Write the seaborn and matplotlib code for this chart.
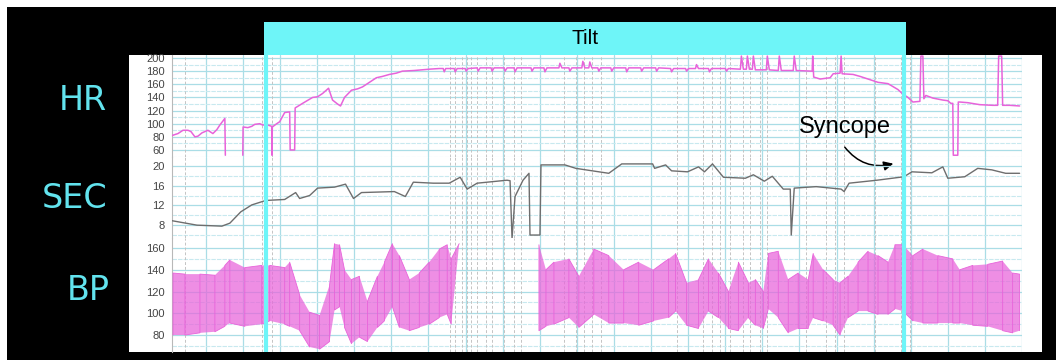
import numpy as np
import pandas as pd
import matplotlib
matplotlib.use("Agg")
import matplotlib.pyplot as plt
import seaborn as sns
from matplotlib.patches import Rectangle
from matplotlib.transforms import blended_transform_factory

# ---------------- data (time in arbitrary minutes) ----------------
hr_time = [0.0, 0.6, 1.1, 1.6, 1.9, 2.3, 2.6, 3.0, 3.6, 4.1, 4.5, 4.8, 5.3, 5.35, np.nan,
           7.1, 7.13, 7.6, 8.0, 8.3, 8.8, 9.1, 9.6, 10.0, 10.03, 10.06, 10.5, 10.8, 11.3, 11.8,
           11.85, 12.3, 12.35, 13.1, 14.1, 14.6, 15.1, 15.7, 16.1, 16.6, 16.9, 17.3, 18.0, 18.6,
           19.1, 19.8, 20.5, 21.1, 21.8, 22.5, 23.1, 24.3, 25.8, 26.8,
           27.2, 27.3, 27.45, 28.3, 28.4, 28.6, 29.4, 29.5, 29.7, 30.6, 30.7, 30.9, 32.0, 32.1,
           32.3, 33.3, 33.4, 33.6, 34.3, 34.4, 34.6, 36.0, 36.1, 36.3, 37.3, 37.4, 37.6, 38.8,
           38.9, 39.1, 39.8, 39.9, 40.1, 41.1, 41.2, 41.4, 41.8, 41.9, 42.1, 42.7, 42.8, 43.0,
           44.0, 44.1, 44.3, 45.5, 45.6, 45.8, 47.0, 47.1, 47.3, 48.5, 48.6, 48.8, 50.0, 50.1,
           50.3, 51.5, 51.6, 51.8, 52.5, 52.6, 52.8, 53.8, 53.9, 54.1, 55.5, 55.6, 55.8, 57.0,
           57.1, 57.3, 57.6, 57.7, 57.9, 58.2, 58.3, 58.5, 59.6, 59.7, 59.9, 60.8, 60.9, 61.1,
           62.3, 62.4, 62.6, 64.2, 64.25, 64.35, 65.0, 66.0, 66.3, 67.0, 67.1, 67.2, 68.3, 69.0,
           69.8, 70.8, 71.8, 72.8, 73.3, 73.8, 74.3, 75.0, 75.1, 75.3, 75.4, 75.6, 76.3, 77.3,
           77.8, 78.1, 78.3, 78.35, 78.8, 78.85, 79.0, 79.8, 81.0, 82.3, 82.8, 82.9, 83.2, 83.3,
           84.0, 85.0]
hr_bpm = [82, 85, 90, 90, 88, 80, 81, 86, 90, 85, 91, 98, 108, 52, np.nan,
          52, 95, 94, 96, 99, 100, 98, 98, 96, 52, 95, 100, 103, 117, 118,
          60, 60, 124, 131, 140, 141, 146, 154, 136, 130, 127, 140, 151, 153,
          156, 163, 170, 172, 175, 177, 180, 181, 183, 184,
          184, 179, 184, 184, 179, 184, 184, 180, 184, 185, 180, 185, 185, 180,
          185, 185, 180, 185, 185, 179, 185, 185, 180, 185, 185, 179, 185, 185,
          192, 185, 185, 180, 185, 185, 195, 185, 185, 194, 185, 185, 180, 185,
          185, 180, 185, 185, 179, 185, 185, 180, 185, 185, 180, 185, 184, 179,
          184, 184, 180, 184, 184, 190, 184, 184, 179, 184, 184, 180, 184, 183,
          203, 183, 183, 203, 183, 183, 203, 182, 182, 203, 182, 181, 203, 181,
          181, 203, 181, 180, 203, 171, 168, 170, 176, 177, 203, 176, 175, 172,
          168, 163, 161, 152, 145, 140, 133, 134, 203, 203, 138, 143, 139, 136,
          135, 131, 131, 52, 52, 133, 133, 132, 129, 128, 128, 203, 203, 128,
          128, 127]

sec_time = [0.0, 2.5, 5.0, 5.8, 6.9, 8.0, 9.4, 11.3, 12.4, 12.8, 13.8, 14.6, 16.3, 17.4,
            18.2, 19.0, 22.3, 23.4, 24.2, 26.2, 27.8, 28.9, 29.6, 30.6, 33.6, 33.9, 34.1,
            34.4, 35.2, 35.8, 35.9, 36.9, 37.0, 39.4, 40.5, 43.8, 45.1, 48.2, 48.4, 49.5,
            50.1, 51.7, 52.8, 53.4, 54.2, 55.3, 57.5, 58.3, 59.4, 60.2, 61.3, 62.0, 62.1,
            62.4, 64.6, 67.1, 67.4, 67.9, 70.7, 73.4, 74.2, 76.2, 77.3, 77.8, 79.5, 80.8,
            82.2, 83.6, 85.0]
sec_val = [8.9, 8.0, 7.8, 8.4, 10.7, 12.1, 13.0, 13.2, 14.6, 13.4, 14.0, 15.5, 15.7, 16.3,
           13.4, 14.6, 14.8, 13.8, 16.7, 16.5, 16.5, 17.7, 15.3, 16.5, 17.1, 17.0, 5.3,
           13.8, 17.1, 18.5, 6.0, 6.0, 20.2, 20.2, 19.5, 18.5, 20.4, 20.4, 19.5, 20.2,
           19.0, 18.8, 19.8, 18.8, 20.4, 17.7, 17.5, 18.2, 16.9, 17.9, 15.3, 15.3, 6.0,
           15.5, 15.8, 15.3, 14.8, 16.5, 17.1, 17.8, 18.8, 18.6, 19.8, 17.5, 17.8, 19.5,
           19.2, 18.5, 18.5]

bp_time = [0.1, 1.3, 2.8, 4.3, 5.3, 5.8, 7.3, 9.0, 9.8, 11.3, 11.8, 12.8, 13.8, 14.8, 15.8,
           16.3, 16.8, 17.3, 18.0, 18.8, 19.6, 20.6, 21.3, 22.1, 22.8, 23.8, 24.8, 25.8,
           26.8, 27.6, 28.0, 28.8, np.nan,
           36.8, 37.5, 38.3, 39.8, 40.8, 42.3, 43.8, 45.3, 46.8, 48.3, 49.8, 50.5, 51.6,
           52.8, 53.8, 54.8, 55.8, 56.8, 57.8, 58.5, 59.3, 59.8, 60.8, 61.8, 62.8, 63.8,
           64.3, 65.3, 66.3, 67.0, 67.8, 68.8, 69.8, 70.8, 71.8, 72.5, 73.3, 74.3, 75.3,
           76.8, 78.3, 79.0, 80.3, 81.8, 83.3, 84.3, 85.0]
bp_systolic = [137, 136, 136, 135, 144, 149, 142, 144, 144, 142, 147, 117, 101, 98, 126,
               164, 163, 140, 131, 134, 111, 134, 147, 164, 153, 131, 137, 147,
               159, 163, 150, 164, np.nan,
               163, 140, 147, 150, 134, 159, 153, 140, 147, 140, 150, 155, 128,
               131, 150, 137, 120, 147, 128, 131, 120, 155, 157, 131, 137, 131,
               155, 140, 131, 128, 134, 147, 157, 153, 147, 163, 163, 153, 159,
               153, 150, 140, 144, 145, 148, 137, 136]
bp_diastolic = [80, 80, 82, 83, 88, 91, 88, 90, 93, 90, 88, 84, 69, 67, 74,
                103, 106, 87, 72, 78, 74, 87, 93, 106, 87, 84, 87, 90,
                96, 99, 90, 164, np.nan,
                84, 88, 90, 96, 87, 99, 91, 91, 89, 93, 96, 102, 89,
                86, 102, 96, 86, 84, 96, 89, 86, 104, 96, 82, 86, 86,
                96, 93, 89, 80, 96, 102, 102, 99, 99, 104, 102, 93, 91,
                91, 91, 91, 89, 88, 84, 82, 84]

event_marks = [1.3, 9.0, 10.0, 27.9, 28.4, 29.1, 29.6, 30.0, 30.6, 31.5, 32.1, 33.3, 34.3,
               35.0, 39.3, 40.5, 41.3, 42.1, 43.0, 50.6, 53.3, 54.2, 55.0, 56.0, 57.3,
               58.0, 59.0, 59.7, 63.6, 65.6, 66.5, 67.4, 70.5, 73.1, 74.0]

tilt_start, tilt_end = 9.4, 73.4
syncope_label = "Syncope"
syncope_arrow_from = (67.3, 67.6)   # HR-axis coordinates
syncope_arrow_to = (72.6, 20.6)     # SEC-axis coordinates

hr_ticks = [60, 80, 100, 120, 140, 160, 180, 200]
sec_ticks = [8, 12, 16, 20]
bp_ticks = [80, 100, 120, 140, 160]
panel_names = ["HR", "SEC", "BP"]

# ---------------- style ----------------
sns.set_theme(style="white")
plt.rcParams["font.family"] = ["Liberation Sans", "DejaVu Sans"]

MAGENTA = "#e863da"
CYAN = "#6ef5f8"
GRID = "#aadde6"
GRID_MINOR = "#c8e9ef"

fig = plt.figure(figsize=(10.56, 3.6), dpi=100, facecolor="white")
W, H = 1056.0, 360.0

def fx(px):
    return px / W

def fy(py):
    return 1 - py / H

# black frame and white chart card (behind the axes)
fig.add_artist(Rectangle((fx(7), 0), 1 - fx(7), fy(7), transform=fig.transFigure,
                         facecolor="black", edgecolor="none", zorder=-3))
fig.add_artist(Rectangle((fx(129), fy(352)), fx(1042) - fx(129), fy(55) - fy(352),
                         transform=fig.transFigure, facecolor="white", edgecolor="none", zorder=-2))

left, width = fx(172), fx(1022) - fx(172)
ax_hr = fig.add_axes([left, fy(157), width, fy(55) - fy(157)])
ax_sec = fig.add_axes([left, fy(238), width, fy(157) - fy(238)])
ax_bp = fig.add_axes([left, fy(352), width, fy(238) - fy(352)])
axes = [ax_hr, ax_sec, ax_bp]

xgrid = np.arange(3.4, 85.5, 3.72)
for ax in axes:
    ax.set_facecolor("none")
    ax.set_xlim(0, 85)
    ax.set_xticks(xgrid)
    ax.set_xticklabels([])
    for s in ["top", "right", "bottom"]:
        ax.spines[s].set_visible(False)
    ax.spines["left"].set_color("#b8b8b8")
    ax.spines["left"].set_linewidth(0.8)
    ax.tick_params(axis="both", length=0, labelsize=8, labelcolor="#444444", pad=5)
    ax.grid(axis="x", which="major", color=GRID, lw=0.9)
    ax.grid(axis="y", which="major", color=GRID, lw=0.9)
    ax.grid(axis="y", which="minor", color=GRID_MINOR, lw=0.8, ls=(0, (4, 1)))
    for t in event_marks:
        ax.axvline(t, color="#c4c4c4", lw=0.7, ls=(0, (3, 2)), zorder=1)

ax_hr.set_ylim(49.3, 204.6)
ax_hr.set_yticks(hr_ticks)
ax_hr.set_yticks(np.arange(50, 205, 10), minor=True)
ax_sec.set_ylim(5.4, 21.8)
ax_sec.set_yticks(sec_ticks)
ax_sec.set_yticks(np.arange(6, 22, 2), minor=True)
ax_bp.set_ylim(64.4, 169.2)
ax_bp.set_yticks(bp_ticks)
ax_bp.set_yticks(np.arange(70, 170, 10), minor=True)

def segmented(t, v):
    df = pd.DataFrame({"t": t, "v": v})
    df["seg"] = df["t"].isna().cumsum()
    return df.dropna()

# HR
hr_df = segmented(hr_time, hr_bpm)
sns.lineplot(data=hr_df, x="t", y="v", units="seg", estimator=None, sort=False,
             color=MAGENTA, lw=1.1, ax=ax_hr, zorder=3)

# SEC
sec_df = segmented(sec_time, sec_val)
sns.lineplot(data=sec_df, x="t", y="v", units="seg", estimator=None, sort=False,
             color="#6e6e6e", lw=1.0, ax=ax_sec, zorder=3)

# BP: envelope band + beat strokes between diastolic and systolic readings
bp_t = np.array(bp_time, dtype=float)
bp_hi = np.array(bp_systolic, dtype=float)
bp_lo = np.array(bp_diastolic, dtype=float)
ax_bp.fill_between(bp_t, bp_lo, bp_hi, color=MAGENTA, alpha=0.72, lw=0, zorder=2)
rows = []
seg = 0
for i, (t, hi, lo) in enumerate(zip(bp_t, bp_hi, bp_lo)):
    if np.isnan(t):
        seg += 1
        continue
    pair = (lo, hi) if i % 2 == 0 else (hi, lo)
    rows.append((t, pair[0], seg))
    rows.append((t, pair[1], seg))
bp_df = pd.DataFrame(rows, columns=["t", "v", "seg"])
sns.lineplot(data=bp_df, x="t", y="v", units="seg", estimator=None, sort=False,
             color=MAGENTA, lw=0.6, ax=ax_bp, zorder=3)
for ax in axes:
    ax.set_xlabel("")
    ax.set_ylabel("")

# Tilt markers
for ax in axes:
    for t in (tilt_start, tilt_end):
        ax.axvline(t, color=CYAN, lw=3.0, zorder=6)
btrans = blended_transform_factory(ax_hr.transData, fig.transFigure)
fig.add_artist(Rectangle((tilt_start - 0.2, fy(55)), (tilt_end - tilt_start) + 0.4, fy(22) - fy(55),
                         transform=btrans, facecolor=CYAN, edgecolor="none", zorder=3))
fig.text((tilt_start + tilt_end) / 2, fy(38), "Tilt", transform=btrans, ha="center",
         va="center", fontsize=15, color="black", zorder=4)

# Syncope annotation
ax_hr.text(67.5, 95, syncope_label, ha="center", va="center", fontsize=17, color="black", zorder=7)
ax_hr.annotate("", xy=syncope_arrow_to, xycoords=ax_sec.transData,
               xytext=syncope_arrow_from, textcoords=ax_hr.transData,
               arrowprops=dict(arrowstyle="-|>", color="black", lw=1.1, mutation_scale=14,
                               connectionstyle="arc3,rad=0.35"),
               annotation_clip=False, zorder=7)

# Panel labels
for name, (px, py) in zip(panel_names, [(83, 100), (75, 198), (88, 290)]):
    fig.text(fx(px), fy(py), name, ha="center", va="center", fontsize=24, color="#62e3ee",
             family=["DejaVu Sans"])

fig.savefig("out.png", dpi=100, facecolor=fig.get_facecolor())
